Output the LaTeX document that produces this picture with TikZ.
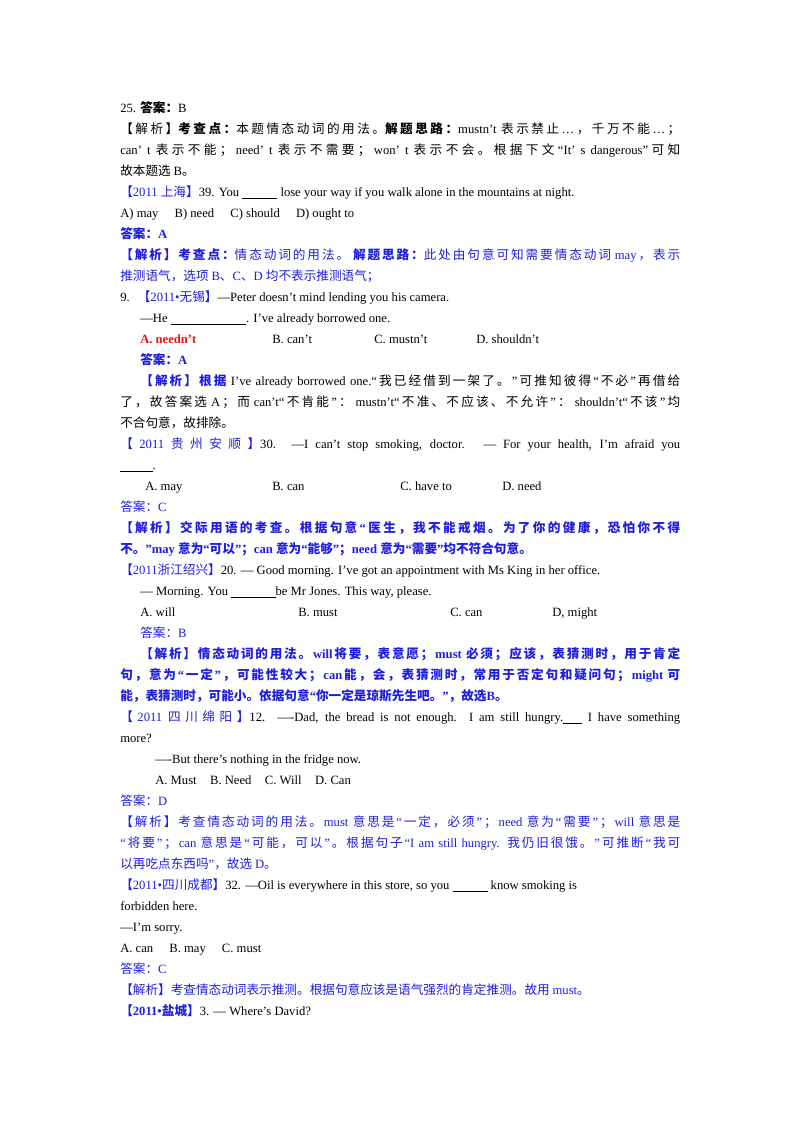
\documentclass[tikz,border=0pt]{standalone}
\usepackage{fontspec}
\setmainfont{Liberation Serif}
\newfontfamily\cjkf{Noto Sans CJK SC}
\makeatletter
\newXeTeXintercharclass\mycjkclass
\count@="3000 \loop \XeTeXcharclass\count@=\mycjkclass \advance\count@ 1 \ifnum\count@<"3040 \repeat
\count@="4E00 \loop \XeTeXcharclass\count@=\mycjkclass \advance\count@ 1 \ifnum\count@<"A000 \repeat
\count@="FF00 \loop \XeTeXcharclass\count@=\mycjkclass \advance\count@ 1 \ifnum\count@<"FFF0 \repeat
\XeTeXcharclass"201C=0 \XeTeXcharclass"201D=0 \XeTeXcharclass"2018=0 \XeTeXcharclass"2019=0 \XeTeXcharclass"2026=0 \XeTeXcharclass"2014=0 \XeTeXcharclass"2022=0
\makeatother
\XeTeXinterchartoks 0 \mycjkclass = {\hskip0pt plus 2pt\cjkf}
\XeTeXinterchartoks 4095 \mycjkclass = {\cjkf}
\XeTeXinterchartoks \mycjkclass 0 = {\hskip0pt plus 2pt\rmfamily}
\XeTeXinterchartoks \mycjkclass \mycjkclass = {\hskip0pt plus 2pt}
\XeTeXinterchartoks 4095 0 = {\rmfamily}
\XeTeXinterchartokenstate=1
\definecolor{bl}{RGB}{30,30,225}
\definecolor{rd}{RGB}{235,20,20}
\newcommand{\blank}[1]{\underline{\hspace{#1}}}
\tikzset{ln/.style={anchor=base west,inner sep=0pt,font=\fontsize{9.4}{12}\selectfont},
  full/.style={ln,text width=#1*0.7441pt,align=justify,execute at begin node={\parfillskip=0pt\relax}},
  full/.default=560}
\begin{document}
\begin{tikzpicture}[x=0.7441pt,y=-0.7441pt]
\useasboundingbox[fill=white] (0,0) rectangle (800,1132);
\node[ln] (l1) at (120,112) {25. {\bfseries 答案：}B};
\node[full] (l2) at (120,133) {【解析】{\bfseries 考查点：}本题情态动词的用法。{\bfseries 解题思路：}mustn't 表示禁止…，千万不能…；};
\node[full] (l3) at (120,154) {can’ t 表示不能；need’ t 表示不需要；won’ t 表示不会。根据下文“It’ s dangerous”可知};
\node[ln] (l4) at (120,175) {故本题选 B。};
\node[ln] (l5) at (120,196) {\textcolor{bl}{【2011 上海】}39. You \blank{26pt} lose your way if you walk alone in the mountains at night.};
\node[ln] (l6) at (120,217) {A) may\hspace{12pt}B) need\hspace{12pt}C) should\hspace{12pt}D) ought to};
\node[ln,text=bl] (l7) at (120,238) {\bfseries 答案：A};
\node[full,text=bl] (l8) at (120,259) {{\bfseries 【解析】考查点：}情态动词的用法。 {\bfseries 解题思路：}此处由句意可知需要情态动词 may，表示};
\node[ln,text=bl] (l9) at (120,280) {推测语气，选项 B、C、D 均不表示推测语气；};
\node[ln] (l10) at (120,301) {9.\hspace{6pt}\textcolor{bl}{【2011•无锡】}—Peter doesn’t mind lending you his camera.};
\node[ln] (l11) at (140,322) {—He \blank{56pt}. I’ve already borrowed one.};
\node[ln,text=rd] (l12a) at (140,343) {\bfseries A. needn’t};
\node[ln] (l12b) at (272,343) {B. can’t};
\node[ln] (l12c) at (374,343) {C. mustn’t};
\node[ln] (l12d) at (476,343) {D. shouldn’t};
\node[ln,text=bl] (l13) at (140,364) {\bfseries 答案：A};
\node[full=540] (l14) at (140,385) {\textcolor{bl}{\bfseries 【解析】根据} I’ve already borrowed one.“我已经借到一架了。”可推知彼得“不必”再借给};
\node[full] (l15) at (120,406) {了，故答案选 A；而 can’t“不肯能”：\ mustn’t“不准、不应该、不允许”：\ shouldn’t“不该”均};
\node[ln] (l16) at (120,427) {不合句意，故排除。};
\node[full] (l17) at (120,448) {\textcolor{bl}{【2011 贵州安顺】}30. —I can’t stop smoking, doctor.\hspace{14pt}— For your health, I’m afraid you};
\node[ln] (l18) at (120,469) {\blank{24pt}.};
\node[ln] (l19a) at (145,490) {A. may};
\node[ln] (l19b) at (272,490) {B. can};
\node[ln] (l19c) at (400,490) {C. have to};
\node[ln] (l19d) at (502,490) {D. need};
\node[ln,text=bl] (l20) at (120,511) {答案：C};
\node[full,text=bl] (l21) at (120,532) {\bfseries 【解析】交际用语的考查。根据句意“医生，我不能戒烟。为了你的健康，恐怕你不得};
\node[ln,text=bl] (l22) at (120,553) {\bfseries 不。”may 意为“可以”；can 意为“能够”；need 意为“需要”均不符合句意。};
\node[ln] (l23) at (120,574) {\textcolor{bl}{【2011浙江绍兴】}20. — Good morning. I've got an appointment with Ms King in her office.};
\node[ln] (l24) at (140,595) {— Morning. You \blank{33pt}be Mr Jones. This way, please.};
\node[ln] (l25a) at (140,616) {A. will};
\node[ln] (l25b) at (298,616) {B. must};
\node[ln] (l25c) at (450,616) {C. can};
\node[ln] (l25d) at (552,616) {D, might};
\node[ln,text=bl] (l26) at (140,637) {答案：B};
\node[full=540,text=bl] (l27) at (140,658) {\bfseries 【解析】情态动词的用法。will将要，表意愿；must 必须；应该，表猜测时，用于肯定};
\node[full,text=bl] (l28) at (120,679) {\bfseries 句，意为“一定”，可能性较大；can能，会，表猜测时，常用于否定句和疑问句；might 可};
\node[ln,text=bl] (l29) at (120,700) {\bfseries 能，表猜测时，可能小。依据句意“你一定是琼斯先生吧。”，故选B。};
\node[full] (l30) at (120,721) {\textcolor{bl}{【2011 四川绵阳】}12. ----Dad, the bread is not enough. I am still hungry.\blank{14pt} I have something};
\node[ln] (l31) at (120,742) {more?};
\node[ln] (l32) at (155,763) {----But there’s nothing in the fridge now.};
\node[ln] (l33) at (155,784) {A. Must\hspace{10pt}B. Need\hspace{10pt}C. Will\hspace{10pt}D. Can};
\node[ln,text=bl] (l34) at (120,805) {答案：D};
\node[full,text=bl] (l35) at (120,826) {【解析】考查情态动词的用法。must 意思是“一定，必须”；need 意为“需要”；will 意思是};
\node[full,text=bl] (l36) at (120,847) {“将要”；can 意思是“可能，可以”。根据句子“I am still hungry. 我仍旧很饿。”可推断“我可};
\node[ln,text=bl] (l37) at (120,868) {以再吃点东西吗”，故选 D。};
\node[ln] (l38) at (120,889) {\textcolor{bl}{【2011•四川成都】}32. —Oil is everywhere in this store, so you {\bfseries\blank{26pt}} know smoking is};
\node[ln] (l39) at (120,910) {forbidden here.};
\node[ln] (l40) at (120,931) {—I'm sorry.};
\node[ln] (l41) at (120,952) {A. can\hspace{12pt}B. may\hspace{12pt}C. must};
\node[ln,text=bl] (l42) at (120,973) {答案：C};
\node[ln,text=bl] (l43) at (120,994) {【解析】考查情态动词表示推测。根据句意应该是语气强烈的肯定推测。故用 must。};
\node[ln] (l44) at (120,1015) {\textcolor{bl}{\bfseries 【2011•盐城】}3. — Where's David?};
\end{tikzpicture}
\end{document}
